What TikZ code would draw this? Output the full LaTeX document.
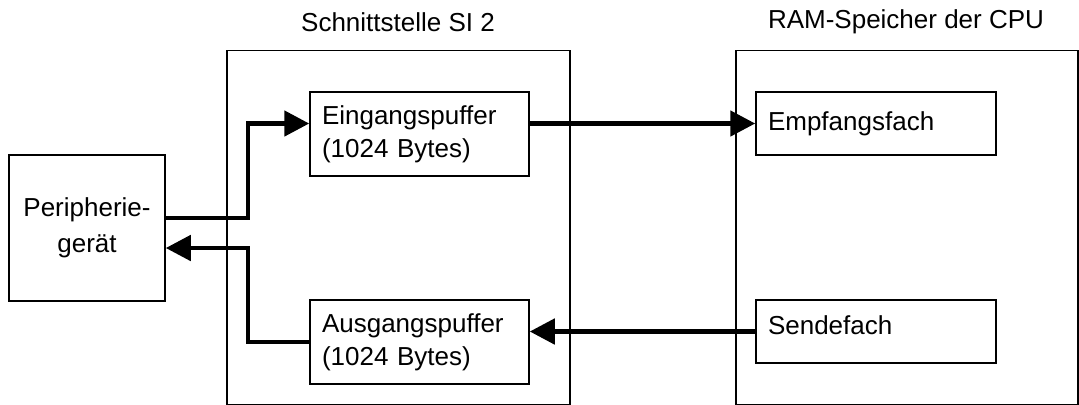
\documentclass[tikz,border=0pt]{standalone}
\usepackage{fontspec}
\setmainfont{Liberation Sans}
\usetikzlibrary{arrows.meta}
\begin{document}
\begin{tikzpicture}[x=0.5pt,y=-0.5pt,
  every node/.style={font=\fontsize{13}{16.5}\selectfont},
  frame/.style={draw,line width=0.75pt,inner sep=0pt},
  buf/.style={draw,line width=0.75pt,align=left,inner xsep=6pt,inner ysep=0pt},
  flow/.style={line width=2.4pt,-{Triangle[length=12.5pt,width=12.5pt]}}]
\useasboundingbox (0,0) rectangle (1079,404);
% titles
\node (t1) at (398,22) {Schnittstelle SI 2};
\node (t2) at (906,22) {RAM-Speicher der CPU};
% outer frames
\node[frame,minimum width=171.5pt,minimum height=177pt] (si) at (398.5,227.5) {};
\node[frame,minimum width=171pt,minimum height=177pt] (ram) at (907,227.5) {};
% peripheral device
\node[frame,align=center,minimum width=78pt,minimum height=73pt,font=\fontsize{13}{18}\selectfont] (peri) at (87,228) {Peripherie-\\gerät};
% buffers
\node[buf,text width=97.5pt,minimum height=42pt] (ein) at (419.5,134) {Eingangspuffer\\(1024 Bytes)};
\node[buf,text width=97.5pt,minimum height=42pt] (aus) at (419.5,342) {Ausgangspuffer\\(1024 Bytes)};
\node[buf,text width=108pt,minimum height=31.5pt] (emp) at (876,123.5) {Empfangsfach};
\node[buf,text width=108pt,minimum height=31.5pt,text depth=6pt] (sen) at (876,331.5) {Sendefach};
% connectors
\coordinate (j1) at (248,218);
\coordinate (j2) at (248,248);
\draw[flow] (peri.east |- j1) -- (j1) |- (ein.west |- emp.west);
\draw[flow] (ein.east |- emp.west) -- (emp.west);
\draw[flow] (sen.west) -- (aus.east |- sen.west);
\draw[flow] (aus.west) -| (j2) -- (peri.east |- j2);
\end{tikzpicture}
\end{document}
